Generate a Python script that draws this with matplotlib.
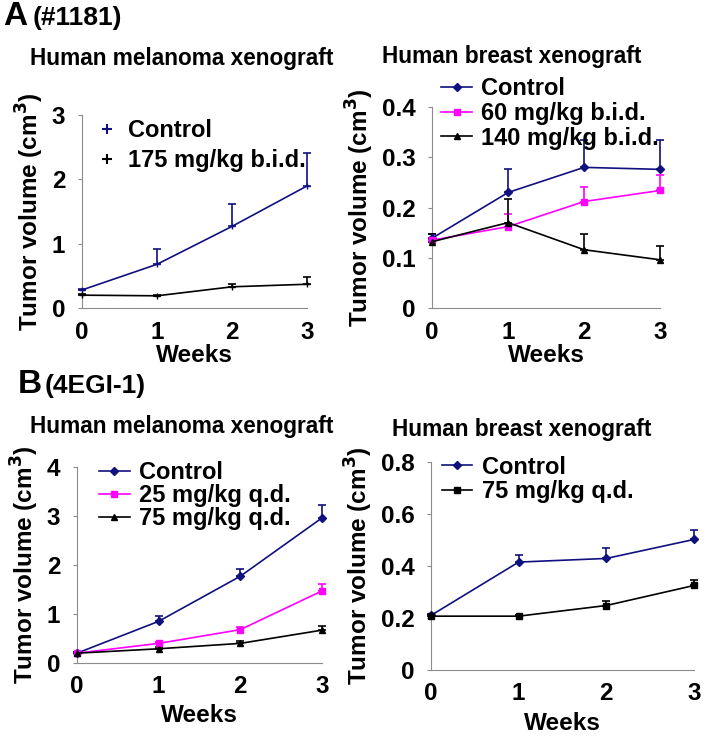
import matplotlib
matplotlib.use('Agg')
import matplotlib.pyplot as plt
from matplotlib.lines import Line2D
import numpy as np

plt.rcParams['font.family'] = ['Liberation Sans', 'DejaVu Sans']
plt.rcParams['font.weight'] = 'bold'

weeks = [0, 1, 2, 3]

# A, melanoma (#1181)
a_mel_ctrl = [0.28, 0.68, 1.27, 1.90]
a_mel_ctrl_err = [0.02, 0.24, 0.35, 0.51]
a_mel_175 = [0.20, 0.19, 0.33, 0.37]
a_mel_175_err = [0.02, 0.02, 0.04, 0.11]

# A, breast (#1181)
a_br_ctrl = [0.139, 0.230, 0.280, 0.276]
a_br_ctrl_err = [0.009, 0.046, 0.055, 0.059]
a_br_60 = [0.135, 0.162, 0.212, 0.234]
a_br_60_err = [0.005, 0.025, 0.029, 0.030]
a_br_140 = [0.132, 0.170, 0.116, 0.096]
a_br_140_err = [0.016, 0.047, 0.032, 0.027]

# B, melanoma (4EGI-1)
b_mel_ctrl = [0.20, 0.85, 1.77, 2.96]
b_mel_ctrl_err = [0.02, 0.10, 0.14, 0.26]
b_mel_25 = [0.20, 0.40, 0.68, 1.47]
b_mel_25_err = [0.02, 0.03, 0.05, 0.15]
b_mel_75 = [0.20, 0.29, 0.40, 0.67]
b_mel_75_err = [0.02, 0.03, 0.04, 0.08]

# B, breast (4EGI-1)
b_br_ctrl = [0.21, 0.415, 0.429, 0.502]
b_br_ctrl_err = [0.005, 0.029, 0.041, 0.036]
b_br_75 = [0.207, 0.207, 0.248, 0.325]
b_br_75_err = [0.005, 0.005, 0.017, 0.021]

navy = '#10107f'
magenta = '#ff00ff'
black = '#000000'
spine_col = '#8c8c8c'

FS = 17.5   # ticks / axis labels
LFS = 17    # legend

fig = plt.figure(figsize=(7.06, 7.36), dpi=100)


def setup(ax, ymax, yticks, yticklabels, xpad=0):
    ax.set_xlim(0, 3)
    ax.set_ylim(0, ymax)
    ax.set_xticks(weeks)
    ax.set_yticks(yticks)
    ax.set_yticklabels(yticklabels)
    for s in ['top', 'right']:
        ax.spines[s].set_visible(False)
    for s in ['left', 'bottom']:
        ax.spines[s].set_color(spine_col)
        ax.spines[s].set_linewidth(0.8)
    ax.tick_params(axis='y', length=3, color=spine_col, pad=9, labelsize=FS)
    ax.tick_params(axis='x', length=0, pad=9, labelsize=FS)
    for lab in ax.get_xticklabels() + ax.get_yticklabels():
        lab.set_fontweight('bold')
    ax.set_xlabel('Weeks', fontsize=FS, fontweight='bold', labelpad=xpad)
    ax.set_ylabel('Tumor volume (cm$^\\mathbf{3}$)', fontsize=FS,
                  fontweight='bold', labelpad=4)


def series(ax, y, err, color, marker, ms):
    ax.errorbar(weeks, y, yerr=[np.zeros(len(y)), err], color=color,
                marker=marker, markersize=ms, lw=1.2, elinewidth=1.2,
                capsize=3, capthick=1.2, clip_on=False, zorder=3)


def legend(ax, handles, labels, x, y, hl, sp=0.0):
    ax.legend(handles, labels, loc='upper left', bbox_to_anchor=(x, y),
              frameon=False, handlelength=hl, handletextpad=0.4,
              labelspacing=sp, borderpad=0, borderaxespad=0,
              prop={'weight': 'bold', 'size': LFS})


# ---- A left
ax1 = fig.add_axes([0.116, 0.5815, 0.319, 0.262])
series(ax1, a_mel_ctrl, a_mel_ctrl_err, navy, '+', 5)
series(ax1, a_mel_175, a_mel_175_err, black, '+', 5)
setup(ax1, 3, [0, 1, 2, 3], ['0', '1', '2', '3'])
h1 = [Line2D([], [], color=navy, marker='+', ls='none', ms=7, mew=1.5),
      Line2D([], [], color=black, marker='+', ls='none', ms=7, mew=1.5)]
legend(ax1, h1, ['Control', '175 mg/kg b.i.d.'], 0.06, 0.98, 1.0, 0.3)

# ---- A right
ax2 = fig.add_axes([0.612, 0.5815, 0.323, 0.273])
series(ax2, a_br_ctrl, a_br_ctrl_err, navy, 'D', 4)
series(ax2, a_br_60, a_br_60_err, magenta, 's', 5)
series(ax2, a_br_140, a_br_140_err, black, '^', 5)
setup(ax2, 0.4, [0, 0.1, 0.2, 0.3, 0.4], ['0', '0.1', '0.2', '0.3', '0.4'])
h2 = [Line2D([], [], color=navy, marker='D', ms=4, lw=1.2),
      Line2D([], [], color=magenta, marker='s', ms=5, lw=1.2),
      Line2D([], [], color=black, marker='^', ms=5, lw=1.2)]
legend(ax2, h2, ['Control', '60 mg/kg b.i.d.', '140 mg/kg b.i.d.'],
       0.04, 1.15, 1.3, 0.08)

# ---- B left
ax3 = fig.add_axes([0.109, 0.0992, 0.347, 0.2663])
series(ax3, b_mel_ctrl, b_mel_ctrl_err, navy, 'D', 4)
series(ax3, b_mel_25, b_mel_25_err, magenta, 's', 5)
series(ax3, b_mel_75, b_mel_75_err, black, '^', 5)
setup(ax3, 4, [0, 1, 2, 3, 4], ['0', '1', '2', '3', '4'], xpad=4)
h3 = [Line2D([], [], color=navy, marker='D', ms=4, lw=1.2),
      Line2D([], [], color=magenta, marker='s', ms=5, lw=1.2),
      Line2D([], [], color=black, marker='^', ms=5, lw=1.2)]
legend(ax3, h3, ['Control', '25 mg/kg q.d.', '75 mg/kg q.d.'],
       0.09, 1.03, 1.3)

# ---- B right
ax4 = fig.add_axes([0.6105, 0.0897, 0.3725, 0.2826])
series(ax4, b_br_ctrl, b_br_ctrl_err, navy, 'D', 4)
series(ax4, b_br_75, b_br_75_err, black, 's', 5)
setup(ax4, 0.8, [0, 0.2, 0.4, 0.6, 0.8], ['0', '0.2', '0.4', '0.6', '0.8'],
      xpad=5)
h4 = [Line2D([], [], color=navy, marker='D', ms=4, lw=1.2),
      Line2D([], [], color=black, marker='s', ms=5, lw=1.2)]
legend(ax4, h4, ['Control', '75 mg/kg q.d.'], 0.04, 1.03, 1.3, 0.05)

# panel labels and titles
fig.text(3 / 706, 1 - 25 / 736, 'A', fontsize=24, fontweight='bold',
         va='baseline', ha='left')
fig.text(33 / 706, 1 - 25 / 736, '(#1181)', fontsize=19, fontweight='bold',
         va='baseline', ha='left')
fig.text(182 / 706, 1 - 65 / 736, 'Human melanoma xenograft', fontsize=16.3,
         fontweight='bold', va='baseline', ha='center')
fig.text(512 / 706, 1 - 63 / 736, 'Human breast xenograft', fontsize=16.3,
         fontweight='bold', va='baseline', ha='center')

fig.text(18 / 706, 1 - 393 / 736, 'B', fontsize=24, fontweight='bold',
         va='baseline', ha='left')
fig.text(45 / 706, 1 - 393 / 736, '(4EGI-1)', fontsize=19, fontweight='bold',
         va='baseline', ha='left')
fig.text(182 / 706, 1 - 433 / 736, 'Human melanoma xenograft', fontsize=16.3,
         fontweight='bold', va='baseline', ha='center')
fig.text(522 / 706, 1 - 436 / 736, 'Human breast xenograft', fontsize=16.3,
         fontweight='bold', va='baseline', ha='center')

fig.savefig('out.png', dpi=100)
